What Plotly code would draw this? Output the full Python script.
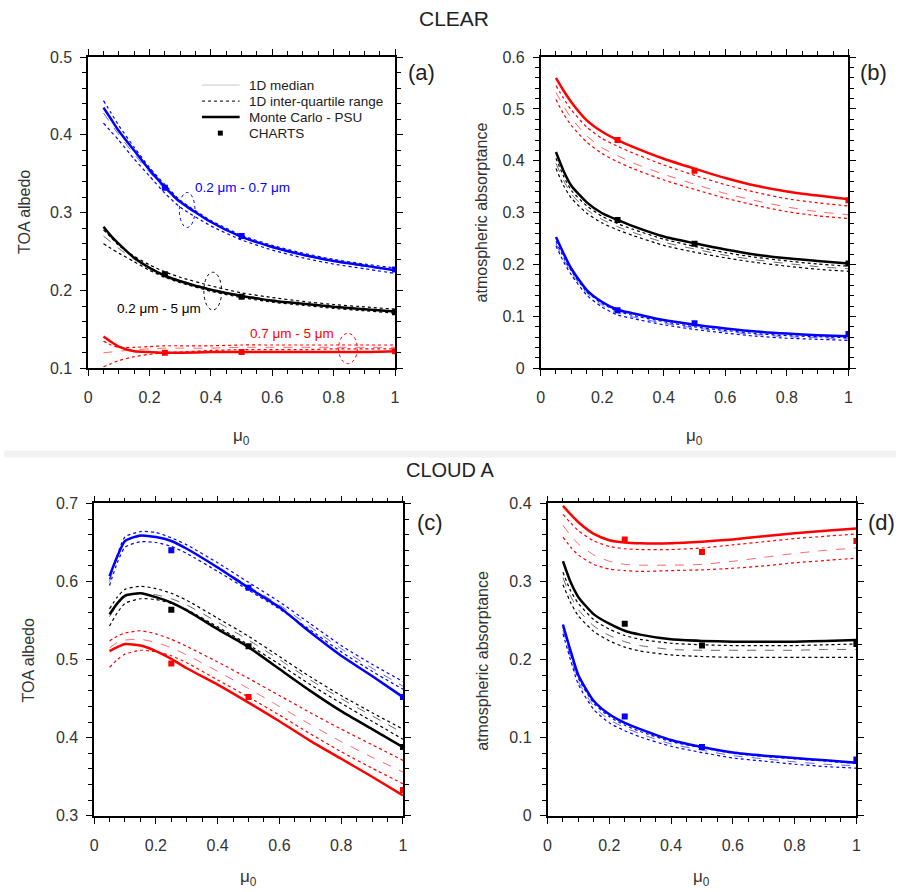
import plotly.graph_objects as go

W, H = 901, 892

# ---------------- data ----------------
MU = [0.05, 0.075, 0.1, 0.15, 0.2, 0.25, 0.3, 0.4, 0.5, 0.6, 0.7, 0.8, 0.9, 1.0]
MU_CHARTS = [0.25, 0.5, 1.0]

# (a) CLEAR, TOA albedo
a_blue_mc  = [0.435, 0.420, 0.405, 0.380, 0.355, 0.333, 0.314, 0.288, 0.269, 0.256, 0.246, 0.238, 0.232, 0.226]
a_blue_med = [0.428, 0.414, 0.400, 0.375, 0.352, 0.330, 0.312, 0.287, 0.268, 0.255, 0.245, 0.237, 0.231, 0.225]
a_blue_q3  = [0.444, 0.428, 0.412, 0.384, 0.358, 0.336, 0.316, 0.290, 0.271, 0.258, 0.248, 0.240, 0.234, 0.229]
a_blue_q1  = [0.415, 0.404, 0.393, 0.369, 0.347, 0.325, 0.307, 0.283, 0.265, 0.252, 0.242, 0.234, 0.228, 0.222]
a_blue_ch  = [0.332, 0.270, 0.227]

a_black_mc  = [0.282, 0.270, 0.260, 0.242, 0.229, 0.219, 0.212, 0.201, 0.193, 0.187, 0.183, 0.179, 0.176, 0.173]
a_black_med = [0.270, 0.262, 0.254, 0.240, 0.229, 0.220, 0.213, 0.202, 0.194, 0.188, 0.183, 0.179, 0.176, 0.173]
a_black_q3  = [0.278, 0.268, 0.258, 0.244, 0.233, 0.224, 0.217, 0.206, 0.197, 0.191, 0.186, 0.182, 0.179, 0.176]
a_black_q1  = [0.260, 0.254, 0.248, 0.237, 0.226, 0.217, 0.210, 0.199, 0.191, 0.185, 0.181, 0.177, 0.174, 0.171]
a_black_ch  = [0.221, 0.192, 0.172]

a_red_mc  = [0.141, 0.134, 0.128, 0.122, 0.121, 0.120, 0.120, 0.121, 0.121, 0.121, 0.121, 0.121, 0.121, 0.122]
a_red_med = [0.120, 0.121, 0.122, 0.124, 0.125, 0.126, 0.126, 0.126, 0.127, 0.127, 0.127, 0.127, 0.127, 0.127]
a_red_q3  = [0.135, 0.130, 0.127, 0.127, 0.128, 0.129, 0.129, 0.129, 0.130, 0.130, 0.130, 0.130, 0.130, 0.130]
a_red_q1  = [0.102, 0.106, 0.110, 0.115, 0.118, 0.120, 0.121, 0.123, 0.124, 0.124, 0.124, 0.125, 0.125, 0.125]
a_red_ch  = [0.120, 0.121, 0.122]

# (b) CLEAR, atmospheric absorptance
b_red_mc  = [0.560, 0.535, 0.513, 0.478, 0.456, 0.440, 0.427, 0.404, 0.385, 0.367, 0.352, 0.341, 0.333, 0.326]
b_red_q3  = [0.545, 0.520, 0.498, 0.465, 0.443, 0.428, 0.415, 0.392, 0.372, 0.354, 0.339, 0.327, 0.319, 0.313]
b_red_med = [0.532, 0.505, 0.482, 0.448, 0.425, 0.410, 0.396, 0.374, 0.355, 0.337, 0.323, 0.311, 0.302, 0.296]
b_red_q1  = [0.518, 0.490, 0.468, 0.436, 0.414, 0.398, 0.385, 0.363, 0.345, 0.328, 0.314, 0.302, 0.294, 0.289]
b_red_ch  = [0.440, 0.381, 0.324]

b_black_mc  = [0.417, 0.380, 0.352, 0.320, 0.299, 0.286, 0.274, 0.254, 0.241, 0.229, 0.219, 0.212, 0.207, 0.202]
b_black_q3  = [0.405, 0.370, 0.343, 0.313, 0.293, 0.279, 0.268, 0.249, 0.235, 0.223, 0.214, 0.207, 0.201, 0.197]
b_black_med = [0.395, 0.362, 0.336, 0.306, 0.287, 0.273, 0.262, 0.243, 0.230, 0.218, 0.209, 0.202, 0.196, 0.192]
b_black_q1  = [0.385, 0.352, 0.328, 0.299, 0.280, 0.267, 0.256, 0.237, 0.224, 0.213, 0.204, 0.197, 0.191, 0.187]
b_black_ch  = [0.286, 0.240, 0.202]

b_blue_mc  = [0.253, 0.221, 0.192, 0.151, 0.128, 0.113, 0.106, 0.093, 0.084, 0.077, 0.071, 0.067, 0.064, 0.062]
b_blue_q3  = [0.245, 0.214, 0.188, 0.148, 0.125, 0.110, 0.102, 0.090, 0.080, 0.073, 0.067, 0.063, 0.061, 0.059]
b_blue_med = [0.240, 0.210, 0.184, 0.145, 0.122, 0.107, 0.099, 0.087, 0.078, 0.071, 0.065, 0.061, 0.059, 0.057]
b_blue_q1  = [0.236, 0.205, 0.180, 0.141, 0.118, 0.103, 0.096, 0.084, 0.075, 0.068, 0.062, 0.058, 0.056, 0.054]
b_blue_ch  = [0.112, 0.087, 0.066]

# (c) CLOUD A, TOA albedo
c_blue_mc  = [0.607, 0.632, 0.652, 0.659, 0.657, 0.652, 0.642, 0.618, 0.592, 0.567, 0.535, 0.505, 0.479, 0.452]
c_blue_q3  = [0.603, 0.634, 0.657, 0.664, 0.663, 0.656, 0.647, 0.624, 0.599, 0.574, 0.546, 0.518, 0.494, 0.472]
c_blue_med = [0.600, 0.630, 0.651, 0.658, 0.657, 0.651, 0.642, 0.619, 0.594, 0.570, 0.542, 0.514, 0.489, 0.466]
c_blue_q1  = [0.595, 0.624, 0.644, 0.651, 0.650, 0.645, 0.636, 0.613, 0.589, 0.565, 0.538, 0.510, 0.485, 0.462]
c_blue_ch  = [0.640, 0.592, 0.452]

c_black_mc  = [0.558, 0.572, 0.582, 0.585, 0.580, 0.573, 0.563, 0.539, 0.516, 0.488, 0.460, 0.434, 0.411, 0.388]
c_black_q3  = [0.565, 0.580, 0.590, 0.594, 0.591, 0.585, 0.576, 0.553, 0.530, 0.504, 0.478, 0.454, 0.432, 0.411]
c_black_med = [0.555, 0.570, 0.580, 0.585, 0.583, 0.578, 0.570, 0.548, 0.525, 0.500, 0.474, 0.450, 0.428, 0.406]
c_black_q1  = [0.543, 0.560, 0.572, 0.578, 0.577, 0.572, 0.564, 0.542, 0.519, 0.494, 0.468, 0.444, 0.421, 0.398]
c_black_ch  = [0.564, 0.517, 0.388]

c_red_mc  = [0.511, 0.516, 0.520, 0.518, 0.511, 0.501, 0.489, 0.468, 0.445, 0.421, 0.396, 0.373, 0.350, 0.326]
c_red_q3  = [0.524, 0.530, 0.534, 0.537, 0.533, 0.526, 0.517, 0.497, 0.476, 0.454, 0.432, 0.411, 0.391, 0.371]
c_red_med = [0.515, 0.522, 0.525, 0.526, 0.522, 0.515, 0.506, 0.485, 0.463, 0.440, 0.417, 0.395, 0.375, 0.356]
c_red_q1  = [0.490, 0.500, 0.507, 0.512, 0.510, 0.505, 0.496, 0.474, 0.452, 0.429, 0.405, 0.382, 0.361, 0.341]
c_red_ch  = [0.495, 0.452, 0.333]

# (d) CLOUD A, atmospheric absorptance
d_red_mc  = [0.397, 0.386, 0.376, 0.361, 0.353, 0.350, 0.349, 0.349, 0.351, 0.354, 0.358, 0.362, 0.365, 0.368]
d_red_q3  = [0.386, 0.375, 0.365, 0.352, 0.345, 0.342, 0.341, 0.341, 0.343, 0.347, 0.351, 0.355, 0.358, 0.361]
d_red_med = [0.372, 0.359, 0.348, 0.334, 0.326, 0.322, 0.321, 0.321, 0.322, 0.326, 0.331, 0.336, 0.340, 0.343]
d_red_q1  = [0.357, 0.344, 0.334, 0.322, 0.316, 0.314, 0.313, 0.314, 0.315, 0.317, 0.320, 0.324, 0.327, 0.330]
d_red_ch  = [0.354, 0.338, 0.352]

d_black_mc  = [0.326, 0.299, 0.280, 0.258, 0.246, 0.237, 0.232, 0.226, 0.224, 0.223, 0.223, 0.223, 0.224, 0.225]
d_black_q3  = [0.312, 0.288, 0.272, 0.251, 0.239, 0.231, 0.226, 0.221, 0.219, 0.218, 0.218, 0.218, 0.219, 0.220]
d_black_med = [0.305, 0.281, 0.264, 0.243, 0.231, 0.223, 0.218, 0.213, 0.212, 0.212, 0.212, 0.212, 0.213, 0.213]
d_black_q1  = [0.296, 0.273, 0.256, 0.236, 0.224, 0.216, 0.211, 0.206, 0.204, 0.203, 0.203, 0.203, 0.203, 0.203]
d_black_ch  = [0.246, 0.218, 0.220]

d_blue_mc  = [0.245, 0.211, 0.180, 0.147, 0.130, 0.119, 0.111, 0.097, 0.088, 0.081, 0.077, 0.074, 0.071, 0.068]
d_blue_q3  = [0.242, 0.207, 0.176, 0.144, 0.127, 0.116, 0.108, 0.095, 0.087, 0.080, 0.076, 0.073, 0.070, 0.067]
d_blue_med = [0.238, 0.203, 0.172, 0.140, 0.123, 0.113, 0.105, 0.092, 0.084, 0.077, 0.073, 0.069, 0.066, 0.064]
d_blue_q1  = [0.233, 0.199, 0.168, 0.136, 0.119, 0.109, 0.101, 0.089, 0.081, 0.074, 0.070, 0.066, 0.063, 0.061]
d_blue_ch  = [0.127, 0.088, 0.072]

LEGEND_NAMES = ["1D median", "1D inter-quartile range", "Monte Carlo - PSU", "CHARTS"]
BAND_LABELS = ["0.2 μm - 0.7 μm", "0.2 μm - 5 μm", "0.7 μm - 5 μm"]

BLUE, BLACK, RED = "#0000ff", "#000000", "#ff0000"
FONT = "Liberation Sans, Arial, sans-serif"

panels = {
    "a": [(BLUE, a_blue_mc, a_blue_med, a_blue_q1, a_blue_q3, a_blue_ch),
          (BLACK, a_black_mc, a_black_med, a_black_q1, a_black_q3, a_black_ch),
          (RED, a_red_mc, a_red_med, a_red_q1, a_red_q3, a_red_ch)],
    "b": [(RED, b_red_mc, b_red_med, b_red_q1, b_red_q3, b_red_ch),
          (BLACK, b_black_mc, b_black_med, b_black_q1, b_black_q3, b_black_ch),
          (BLUE, b_blue_mc, b_blue_med, b_blue_q1, b_blue_q3, b_blue_ch)],
    "c": [(BLUE, c_blue_mc, c_blue_med, c_blue_q1, c_blue_q3, c_blue_ch),
          (BLACK, c_black_mc, c_black_med, c_black_q1, c_black_q3, c_black_ch),
          (RED, c_red_mc, c_red_med, c_red_q1, c_red_q3, c_red_ch)],
    "d": [(RED, d_red_mc, d_red_med, d_red_q1, d_red_q3, d_red_ch),
          (BLACK, d_black_mc, d_black_med, d_black_q1, d_black_q3, d_black_ch),
          (BLUE, d_blue_mc, d_blue_med, d_blue_q1, d_blue_q3, d_blue_ch)],
}
axes_of = {"a": ("x", "y"), "b": ("x2", "y2"), "c": ("x3", "y3"), "d": ("x4", "y4")}


def px(x):
    return x / W


def py(y):
    # vertical pixel position (from top) -> paper fraction
    return 1 - ((y - 8) / 0.98) / H


fig = go.Figure()

for key, series in panels.items():
    xa, ya = axes_of[key]
    for color, mc, med, q1, q3, ch in series:
        for arr in (q1, q3):
            fig.add_trace(go.Scatter(x=MU, y=arr, mode="lines", xaxis=xa, yaxis=ya,
                                     line=dict(color=color, width=1.2, dash="dot", shape="spline", smoothing=0.6),
                                     showlegend=False, hoverinfo="skip"))
        fig.add_trace(go.Scatter(x=MU, y=med, mode="lines", xaxis=xa, yaxis=ya, opacity=0.6,
                                 line=dict(color=color, width=1, dash="dash", shape="spline", smoothing=0.6),
                                 showlegend=False, hoverinfo="skip"))
        fig.add_trace(go.Scatter(x=MU, y=mc, mode="lines", xaxis=xa, yaxis=ya,
                                 line=dict(color=color, width=2.5, shape="spline", smoothing=0.6),
                                 showlegend=False, hoverinfo="skip"))
        fig.add_trace(go.Scatter(x=MU_CHARTS, y=ch, mode="markers", xaxis=xa, yaxis=ya,
                                 marker=dict(color=color, size=6, symbol="square"),
                                 showlegend=False, hoverinfo="skip"))

# panel geometry (pixels)
geom = {
    "a": (85, 395, 57, 368, [0.1, 0.5]),
    "b": (542, 853, 57, 368, [0.0, 0.6]),
    "c": (91, 403, 503, 815, [0.3, 0.7]),
    "d": (549, 861, 503, 815, [0.0, 0.4]),
}
suffix = {"a": "", "b": "2", "c": "3", "d": "4"}

axis_common = dict(showline=True, linecolor="black", linewidth=1.5, mirror="allticks",
                   ticks="outside", ticklen=6, tickwidth=1.3, tickcolor="black",
                   showgrid=False, zeroline=False,
                   tickfont=dict(family=FONT, size=16, color="#333333"),
                   minor=dict(ticks="outside", ticklen=4, tickwidth=1, tickcolor="black", showgrid=False))

layout = {}
for key, (x0, x1, y0, y1, yr) in geom.items():
    s = suffix[key]
    layout["xaxis" + s] = dict(axis_common, domain=[px(x0), px(x1)], range=[0, 1], dtick=0.2,
                               anchor="y" + s, ticklabelstandoff=8,
                               minor=dict(axis_common["minor"], dtick=0.05))
    layout["yaxis" + s] = dict(axis_common, domain=[py(y1), py(y0)], range=yr, dtick=0.1,
                               anchor="x" + s, ticklabelstandoff=5,
                               minor=dict(axis_common["minor"], dtick=0.02))

ann = []


def text(x, y, t, size=13, color="#222222", angle=0, xanchor="center"):
    ann.append(dict(x=px(x), y=py(y), xref="paper", yref="paper", text=t, showarrow=False,
                    font=dict(family=FONT, size=size, color=color), textangle=angle,
                    xanchor=xanchor, yanchor="middle"))


text(455, 18, "CLEAR", size=21)
text(450, 470, "CLOUD A", size=20)
text(422, 72, "(a)", size=22)
text(878, 72, "(b)", size=22)
text(430, 522, "(c)", size=22)
text(886, 522, "(d)", size=22)
text(20, 212, "TOA albedo", size=16, color="#333333", angle=-90)
text(482, 212, "atmospheric absorptance", size=16, color="#333333", angle=-90)
text(25, 660, "TOA albedo", size=16, color="#333333", angle=-90)
text(483, 660, "atmospheric absorptance", size=16, color="#333333", angle=-90)
text(240, 437, "μ<sub>0</sub>", size=17, color="#333333")
text(697, 437, "μ<sub>0</sub>", size=17, color="#333333")
text(247, 877, "μ<sub>0</sub>", size=17, color="#333333")
text(705, 877, "μ<sub>0</sub>", size=17, color="#333333")
text(241, 187, BAND_LABELS[0], size=13.5, color=BLUE)
text(157, 308, BAND_LABELS[1], size=13.5, color=BLACK)
text(291, 333, BAND_LABELS[2], size=13.5, color=RED)

# legend (drawn inside panel a)
LEG_X0, LEG_X1, LEG_TX = 200, 238, 245
LEG_ROWS = [85, 101, 117, 133]
for name, row in zip(LEGEND_NAMES, LEG_ROWS):
    text(LEG_TX, row, name, size=13.5, color="#222222", xanchor="left")

shapes = [
    dict(type="rect", xref="paper", yref="paper", x0=0, x1=1, y0=py(457), y1=py(450),
         fillcolor="#f2f2f2", line=dict(width=0), layer="below"),
    dict(type="circle", xref="x", yref="y", x0=0.297, x1=0.348, y0=0.281, y1=0.326,
         line=dict(color=BLUE, width=1, dash="dot")),
    dict(type="circle", xref="x", yref="y", x0=0.377, x1=0.435, y0=0.175, y1=0.2235,
         line=dict(color=BLACK, width=1, dash="dot")),
    dict(type="circle", xref="x", yref="y", x0=0.816, x1=0.877, y0=0.106, y1=0.145,
         line=dict(color=RED, width=1, dash="dot")),
    # legend samples
    dict(type="line", xref="paper", yref="paper", x0=px(LEG_X0), x1=px(LEG_X1),
         y0=py(LEG_ROWS[0]), y1=py(LEG_ROWS[0]), line=dict(color="#c8c8c8", width=1)),
    dict(type="line", xref="paper", yref="paper", x0=px(LEG_X0), x1=px(LEG_X1),
         y0=py(LEG_ROWS[1]), y1=py(LEG_ROWS[1]), line=dict(color="#333333", width=1.2, dash="dot")),
    dict(type="line", xref="paper", yref="paper", x0=px(LEG_X0), x1=px(LEG_X1),
         y0=py(LEG_ROWS[2]), y1=py(LEG_ROWS[2]), line=dict(color="#000000", width=2.5)),
    dict(type="rect", xref="paper", yref="paper", x0=px(216), x1=px(221),
         y0=py(LEG_ROWS[3] + 2.5), y1=py(LEG_ROWS[3] - 2.5), fillcolor="#000000", line=dict(width=0)),
]

fig.update_layout(
    width=W, height=H, margin=dict(l=0, r=0, t=0, b=0),
    paper_bgcolor="white", plot_bgcolor="white",
    annotations=ann, shapes=shapes,
    showlegend=False,
)
fig.update_layout(**layout)

POST = ("var gd=document.getElementById('{plot_id}');"
        "gd.style.position='fixed';gd.style.left='0px';gd.style.top='0px';"
        "document.body.style.margin='0';"
        "document.documentElement.style.overflow='hidden';document.body.style.overflow='hidden';")

fig.write_html("out.html", config={"displayModeBar": False}, post_script=POST)
